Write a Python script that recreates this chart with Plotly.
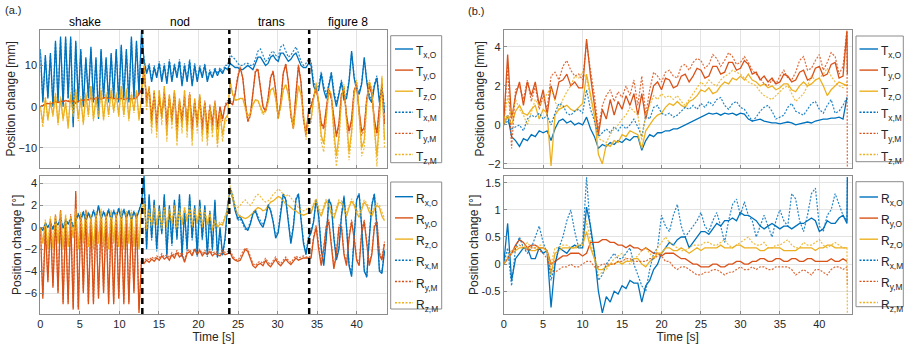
import numpy as np
import plotly.graph_objects as go

# ---------------- data: panel (a), time grid 0.32 s; segments shake | nod | trans | figure 8
ta = np.arange(137) * 0.32
segment_bounds = [12.9, 23.9, 34.0]
segment_names = ["shake", "nod", "trans", "figure 8"]
segment_label_t = [5.7, 17.7, 29.2, 38.9]

Tx_O_a = [14, 1, 12.5, 2, 13, 0, 16, 1, 17, 0, 17, 2, 17, -5, 16, 1, 14, 0, 12, 2, 14.5, 1, 12, -3, 14, 2, 12, 1, 13, 2, 14, 1, 15, 2, 14, 1, 17, 2, 16, 3, 18.5,
          11, 8, 10, 6, 9.5, 7, 10.5, 6, 10, 5.5, 11, 6, 10, 7, 11, 5, 10, 6, 11, 5, 10, 6, 9.5, 7, 10, 6, 8.5, 7, 9, 7.5, 9, 8, 9.5, 9,
          10.5, 10, 9.5, 9.5, 9, 9, 9.5, 10, 9.5, 9, 10.5, 12, 12, 11, 10, 10.5, 12, 12.5, 11.5, 11, 13, 13, 12, 11, 11.5, 12.5, 13, 11.5, 10, 9.5, 9.5, 10.5,
          10, 5, 3.5, 4, 8, 4, 2, 5, 8, 3, 0, 3, 6, 1.5, 2, 6, 13.5, 7, 4, 3, 5.5, 12, 6, 2, 1, 5, 7, 1, 4.5, -1.5]
Ty_O_a = [0, 0.3, 0.5, 0.8, 0.6, 1, 1.2, 1, 1.3, 1.2, 1.5, 1.3, 1.1, 1.4, 0.8, 1.3, 1.6, 1.5, 1.8, 1.6, 2, 1.7, 2.2, 2, 1.8, 2.1, 2.3, 2, 2.2, 1.9, 2.1, 1.8, 2, 1.7, 1.9, 2, 1.8, 2, 2.1, 3, 4,
          9, 2, 4, -3, 3, -4, 2, -2, 3, -4, 2, -3, 3, -5, 1, -3, 2, -4, 3, -5, 1, -4, 2, -5, 1, -6, 0, -4, 1, -5, 0, -3, 0, 1,
          1, 0.5, 3, 7, 9.4, 7, 1, -3.5, -2, 3, 8.5, 9, 5, 0, -1, 2, 7, 8.5, 4, -2.7, 1, 8, 10.3, 6, -2, -5, 3, 10, 6, -3, -6.4, -1,
          0, 2, 4.5, 1, -4, -5, 0, 4, 2, -3, -7, -4, 3, 4, -2, -6, -3, 4, 5, -1, -6, -5, 2, 5, 3, -3, -6.5, 0, 5, -4]
Tz_O_a = [0, -4, 2, -3, 1, -2, 3, -4, 2, -3, 1, -5, 3, -2, 4, -3, 2, -4, 3, -2, 5, -3, 2, -2, 4, -3, 3, -2, 4, -1, 3, -2, 5, -2, 4, -3, 3, -1, 4, -3, 2,
          10, 0, 5, -5, 4, -6, 4, -3, 5, -7, 3, -4, 4, -8, 2, -5, 4, -6, 3, -8, 2, -5, 3, -7, 1, -8, 0, -6, 1, -9, -1, -7, -3, -2,
          6, 3, 1.7, 1.7, 2, 2, -0.5, -2.3, -1.5, 0.5, 1.7, 1.5, 0, -1.5, -1, 1, 4, 4.5, 2, -2.3, 0, 4, 5.3, 3, -1, -5, 0, 5, 3, -2, -6.8, -3,
          -3, 2, 5.5, 1, -7, -9, -2, 4, 3, -6, -12, -7, 2, 5, -3, -11, -6, 3, 6, -1, -10, -8, 1, 6, 4, -5, -12, -3, 7, -8]
Tx_M_a = [13, 1.5, 12, 2.5, 12.5, 0.5, 15.5, 1.5, 16.5, 0.5, 16.5, 2, 16.5, -4, 15.5, 1.5, 13.5, 0.5, 11.5, 2.5, 14, 1.5, 11.5, -2, 13.5, 2.5, 11.5, 1.5, 12.5, 2.5, 13.5, 1.5, 14.5, 2.5, 13.5, 1.5, 16.5, 2.5, 15.5, 3.5, 17,
          11.5, 8.5, 10.5, 6.5, 10, 7.5, 11, 6.5, 10.5, 6, 11.5, 6.5, 10.5, 7.5, 11.5, 5.5, 10.5, 6.5, 11.5, 5.5, 10.5, 6.5, 10, 7.5, 10.5, 6.5, 9, 7.5, 9.5, 8, 9.5, 8.5, 10, 10,
          12.5, 12, 11.5, 10.5, 10, 10, 10.5, 10.5, 10, 10, 11.5, 13.5, 14, 12.5, 11, 11.5, 13, 13.5, 12.5, 12, 14.5, 15, 13.5, 12, 12.5, 13.5, 14.5, 13, 11, 10, 10.5, 11.5,
          11, 6, 4.5, 5, 8.5, 5, 3, 5.5, 8.5, 4, 1, 3.5, 6.5, 2, 3, 6.5, 13, 7.5, 4.5, 3.5, 6, 11.5, 6.5, 3, 1.5, 5.5, 7.5, 2, 4.5, 0]
Ty_M_a = [0, 0.5, 0.4, 1, 0.7, 1.1, 1.3, 0.9, 1.4, 1.3, 1.4, 1.5, 1.2, 1.5, 1, 1.4, 1.7, 1.6, 1.7, 1.8, 2.1, 1.8, 2.1, 2.2, 1.9, 2.2, 2.2, 2.1, 2.3, 2, 2, 1.9, 2.1, 1.8, 2, 2.1, 1.9, 2.1, 2.2, 3.5, 4.5,
          9.5, 1.5, 4.5, -3.5, 3.5, -4.5, 2.5, -2.5, 3.5, -4.5, 2.5, -3.5, 3.5, -5.5, 1.5, -3.5, 2.5, -4.5, 3.5, -5.5, 1.5, -4.5, 2.5, -5.5, 1.5, -6.5, 0.5, -4.5, 1.5, -5.5, 0, -3.5, 0.5, 1.5,
          1.5, 0.5, 3.5, 7.5, 9.8, 7, 1, -3.8, -2.3, 3, 8.8, 9.3, 5, 0, -1.3, 2, 7.3, 8.8, 4, -3, 1, 8.3, 10.5, 6, -2.3, -5.5, 3, 10.2, 6, -3.3, -7, -1.5,
          0.5, 2.5, 4.5, 1, -4.5, -5.5, 0, 4.5, 2, -3.5, -7.5, -4.5, 3, 4.5, -2.5, -6.5, -3.5, 4, 5.5, -1.5, -7, -5.5, 2, 5.5, 3, -3.5, -7, 0, 5.5, -4.5]
Tz_M_a = [0, -5, 2.5, -3.5, 1.5, -2.5, 3.5, -4.5, 2.5, -3.5, 1.5, -5.5, 3.5, -2.5, 4.5, -3.5, 2.5, -4.5, 3.5, -2.5, 5, -3.5, 2.5, -2.5, 4.5, -3.5, 3.5, -2.5, 4.5, -1.5, 3.5, -2.5, 5, -2.5, 4.5, -3.5, 3.5, -1.5, 4, -3.5, 2.5,
          10.5, -1, 5, -6.5, 4, -7.5, 4, -4.5, 5, -8.5, 3, -5.5, 4, -9.5, 2, -6.5, 4, -7.5, 3, -9.5, 2, -6.5, 3, -8.5, 1, -9.5, 0, -7.5, 1, -10, -1.5, -8.5, -4, -3,
          6.5, 3, 1.5, 1.5, 2, 1.8, -1, -3, -2, 0.5, 1.5, 1.3, -0.5, -2, -1.3, 1, 4.2, 4.5, 2, -3, 0, 4.2, 5.5, 3, -1.5, -5.5, 0, 5.2, 3, -2.5, -8, -4,
          -4, 2, 6, 1, -8.5, -11, -3, 4.5, 3, -7.5, -14.5, -9, 2, 5.5, -4, -13, -7, 3, 6.5, -1.5, -12, -10, 1, 6.5, 4.5, -6.5, -14.5, -4, 7.5, -10]

Rx_O_a = [0, -0.3, 0.3, 0, 0.4, -0.2, 0.5, 0.2, 0.8, -0.1, 0.6, 0.3, 0.7, 0, 0.5, 1.2, 0.6, 1.4, 0.5, 1.3, 0.7, 1.5, 0.8, 2, 0.7, 1.4, 0.8, 1.6, 0.6, 1.5, 0.9, 1.7, 0.7, 1.6, 0.8, 1.5, 0.6, 1.4, 0.8, 1.5, 2.2,
          4.7, -2, 3, -1, 2.5, -2, 2, -0.5, 3, -2.5, 2, -1.5, 2.5, -1, 3, -2.5, 1.5, -2, 3, -1, 2, -2.5, 2.5, -1, 2, -2.5, 1.5, -2, 2.5, -2.7, 0, -2.5, -1, 2,
          3.3, 2.7, 1.5, 0.8, 1.0, 0.5, 0, -0.3, 0.3, 1.2, 1.5, 0.8, 0.3, 0, 0.8, 2, 1.5, 0.5, -1, -0.5, 1.5, 3, 2.5, 0.5, -1.5, 0, 2.5, 3, 1, -1.5, -2.5, -1,
          -0.5, 0.5, 2.5, 1, -2, -3.5, -1, 2.5, 2, -1, -3, -2, 1, 2.8, 0, -3.5, -4.5, -1, 2.5, 3, 0, -4, -4.5, -1, 2, 3, 0, -4, -4.2, -2.2]
Ry_O_a = [0, -6.5, 0, -5, 0.5, -5.5, 1, -6, 1.5, -7, 0.5, -7, 1, -7.5, 3.3, -7.5, 1, -6, 1.5, -7, 0.5, -7, 1, -6.5, 0.5, -6, 1, -7, 0.5, -7, 1, -6.5, 0.5, -7, 1, -7, 0.5, -6, 1, -7.8, -3,
          -3.3, -3, -3.2, -2.9, -3.1, -2.8, -3, -2.6, -2.9, -2.7, -3, -2.5, -2.8, -2.3, -2.7, -2.5, -3.2, -2.4, -2.2, -2.6, -2, -2.5, -2.1, -2.6, -2.3, -2.5, -2.2, -2.6, -2.4, -2.5, -2.6, -2.3, -2.5, -2.4,
          -2.3, -2.8, -3, -3.1, -3, -2.5, -2, -2.2, -2.8, -3.5, -3.7, -3.4, -3.3, -3.5, -3, -3.4, -3.6, -3.2, -2.9, -3.3, -3.5, -3.2, -2.9, -3.2, -3.4, -3.1, -2.8, -3, -2.9, -2.8, -2.8, -2.8,
          -2.8, -1, 0, -2, -3.5, -2, 0, 0.5, -2, -3.8, -2.5, 0, 0, -2.5, -3.5, -1, 0.5, -1, -3, -3.5, -0.5, 0.5, -1.5, -3.5, -2.5, 0, 0.5, -2.5, -3, -1.5]
Rz_O_a = [0, -1.5, 0.5, -2, 0.8, -2, 1, -1.5, 1.3, -2, 1, -1.8, 0.8, -1, 1.5, -2, 1.2, -1.5, 1.4, -1.8, 1, -2, 1.3, -1.5, 1.5, -1.8, 1.2, -2, 1.4, -1.5, 1.2, -1.8, 1.5, -2, 1.3, -1.5, 1.4, -1.8, 1.2, -2, 1.8,
          2, -0.3, 1.5, 0, 1.8, 0.2, 1.5, -0.2, 1.7, 0, 1.5, 0.3, 1.8, -0.2, 1.6, 0.2, 1.7, 0.5, 1.8, 0, 1.5, 0.3, 1.7, 0, 1.4, 0.2, 1.2, -0.3, 0.5, 0, 0.3, 0.2, 0.8, 1.5,
          3.5, 2.5, 1.8, 1.2, 1, 0.9, 0.8, 0.9, 1.1, 1.3, 1.6, 1.8, 1.7, 1.5, 1.6, 2, 2.3, 2.4, 2.6, 2.8, 2.7, 2.4, 2.1, 2.0, 1.8, 1.6, 1.5, 1.3, 1.2, 1.1, 1.2, 1.3,
          1.3, 2, 2.4, 1.5, 1, 1.8, 2.4, 2, 1.2, 0.8, 1.6, 2.3, 2.2, 1.5, 1, 1.8, 2.4, 2, 1.3, 0.9, 1.7, 2.3, 2, 1.4, 1, 1.6, 2, 1.8, 1, 0.6]
Rx_M_a = [0, -0.2, 0.4, 0.1, 0.5, -0.1, 0.6, 0.3, 0.9, 0, 0.7, 0.4, 0.8, 0.1, 0.6, 1.3, 0.7, 1.5, 0.6, 1.4, 0.8, 1.6, 0.9, 1.9, 0.8, 1.5, 0.9, 1.7, 0.7, 1.6, 1, 1.8, 0.8, 1.7, 0.9, 1.6, 0.7, 1.5, 0.9, 1.6, 2.3,
          4.4, -1.8, 2.8, -1.2, 2.3, -2.2, 1.8, -0.7, 2.8, -2.7, 1.8, -1.7, 2.3, -1.2, 2.8, -2.7, 1.3, -2.2, 2.8, -1.2, 1.8, -2.7, 2.3, -1.2, 1.8, -2.7, 1.3, -2.2, 2.3, -2.8, -0.2, -2.6, -1.2, 1.8,
          3.6, 3, 1.8, 0.6, 0.8, 0.3, -0.2, -0.1, 0.5, 1.3, 1.6, 1, 0.6, 0.2, 0.9, 2.1, 1.6, 0.6, -0.8, -0.3, 1.6, 3.1, 2.6, 0.6, -1.3, 0.2, 2.6, 3.1, 1.1, -1.3, -2.3, -0.8,
          -0.3, 0.6, 2.6, 1.1, -1.8, -3.3, -0.8, 2.6, 2.1, -0.8, -2.8, -1.8, 1.1, 2.9, 0.1, -3.3, -4.3, -0.8, 2.6, 3.1, 0.1, -3.8, -4.6, -0.8, 2.1, 3.1, 0.1, -3.8, -4, -2]
Ry_M_a = [0, -6.2, 0.2, -4.8, 0.7, -5.3, 1.2, -5.8, 1.6, -6.8, 0.7, -6.8, 1.2, -7.3, 3, -7.3, 1.2, -5.8, 1.6, -6.8, 0.7, -6.8, 1.2, -6.3, 0.7, -5.8, 1.2, -6.8, 0.7, -6.8, 1.2, -6.3, 0.7, -6.8, 1.2, -6.8, 0.7, -5.8, 1.2, -7.5, -2.8,
          -3.1, -2.8, -3, -2.7, -2.9, -2.6, -2.8, -2.4, -2.7, -2.5, -2.8, -2.3, -2.6, -2.1, -2.5, -2.3, -3, -2.2, -2, -2.4, -1.9, -2.3, -2, -2.4, -2.1, -2.3, -2, -2.4, -2.2, -2.3, -2.4, -2.1, -2.3, -2.2,
          -2.1, -2.6, -2.9, -3, -2.7, -2.2, -1.9, -2, -2.6, -3.3, -3.5, -3.2, -3.1, -3.3, -2.8, -3.2, -3.4, -3, -2.7, -3.1, -3.3, -3, -2.7, -3, -3.2, -2.9, -2.6, -2.8, -2.7, -2.6, -2.7, -2.7,
          -2.6, -0.8, 0.2, -1.8, -3.3, -1.8, 0.2, 0.7, -1.8, -3.6, -2.3, 0.2, 0.2, -2.3, -3.3, -0.8, 0.7, -0.8, -2.8, -3.3, -0.3, 0.7, -1.3, -3.3, -2.3, 0.2, 0.7, -2.3, -2.8, -1.3]
Rz_M_a = [0, -1.3, 0.7, -1.8, 1, -1.8, 1.2, -1.3, 1.5, -1.8, 1.2, -1.6, 1, -0.8, 1.7, -1.8, 1.4, -1.3, 1.6, -1.6, 1.2, -1.8, 1.5, -1.3, 1.7, -1.6, 1.4, -1.8, 1.6, -1.3, 1.4, -1.6, 1.7, -1.8, 1.5, -1.3, 1.6, -1.6, 1.4, -1.8, 2,
          2.2, -0.1, 1.7, 0.2, 2, 0.4, 1.7, 0, 1.9, 0.2, 1.7, 0.5, 2, 0, 1.8, 0.4, 1.9, 0.7, 2, 0.2, 1.7, 0.5, 1.9, 0.2, 1.6, 0.4, 1.4, -0.1, 0.7, 0.2, 0.5, 0.4, 1, 1.7,
          3.8, 2.8, 2, 1.8, 2, 2.3, 2.5, 2.2, 2, 2.3, 2.8, 3, 2.8, 2.5, 2.3, 2.4, 2.6, 3, 3.2, 3.5, 3.3, 3, 2.8, 3, 2.7, 2.3, 2, 1.8, 1.6, 1.5, 1.6, 1.8,
          1.5, 2.2, 2.6, 1.8, 1.3, 2, 2.6, 2.2, 1.5, 1.1, 1.8, 2.5, 2.4, 1.7, 1.3, 2, 2.6, 2.2, 1.6, 1.2, 1.9, 2.5, 2.2, 1.7, 1.3, 1.8, 2.2, 2, 1.3, 0.8]

# ---------------- data: panel (b), time grid 0.5 s (+ final sample)
tb = np.r_[np.arange(88) * 0.5, 43.55]

Tx_O_b = [0, 0.5, -0.6, -0.8, -1.1, -0.7, -0.8, -0.5, -0.6, -0.3, -0.4, -0.3, -0.8, -0.2, 0.2, 0.3, 0.1, 0.2, 0.0, 0.1,
          0.0, 0.4, -0.2, -0.6, -1.2, -1.0, -1.1, -0.9, -1.0, -0.8, -0.9, -0.7, -0.8, -0.6, -0.6, -1.3, -0.8, -0.5, -0.6, -0.4,
          -0.4, -0.3, -0.3, -0.2, -0.2, -0.1, 0.0, 0.1, 0.2, 0.3, 0.4, 0.5, 0.6, 0.55, 0.6, 0.5, 0.6, 0.55, 0.6, 0.5,
          0.6, 0.55, 0.3, 0.2, 0.25, 0.3, 0.2, 0.15, 0.1, 0.1, 0.05, 0.1, 0.15, 0.1, 0.0, 0.05, 0.1, 0.15, 0.1, 0.2,
          0.25, 0.3, 0.3, 0.35, 0.35, 0.4, 0.3, 1.4]
Ty_O_b = [0, 3.6, 0.3, 1.5, 2.2, 1.0, 2.2, 1.5, 2.2, 1.0, 1.8, 0.5, 2.0, 1.3, 2.2, 2.3, 2.6, 2.0, 2.2, 1.9,
          1.9, 4.4, 2.5, 1.0, -0.5, 0.8, 0.3, 1.3, 0.5, 1.2, 0.8, 1.5, 1.0, 1.6, 0.5, 1.6, 0.3, 1.2, 2.0, 2.2,
          1.8, 2.4, 2.3, 1.9, 2.0, 2.5, 2.6, 2.2, 2.5, 2.9, 2.8, 2.4, 2.5, 3.0, 3.0, 2.6, 2.7, 3.2, 3.2, 2.8,
          2.9, 3.3, 3.1, 2.6, 2.7, 2.3, 2.5, 2.2, 2.4, 2.1, 2.2, 2.6, 2.5, 2.2, 2.3, 2.7, 2.8, 2.3, 2.4, 2.9,
          3.0, 2.5, 2.6, 3.1, 3.2, 2.4, 2.5, 4.8, 2.6]
Tz_O_b = [0, 0.5, 0.0, 0.7, 1.0, 0.6, 0.5, 0.8, 1.0, 0.3, 0.8, 0.6, -2.1, 0.5, 0.8, 0.9, 1.0, 0.8, 0.7, 0.9,
          1.1, 2.6, 1.5, 0.5, -1.5, -2.0, -1.0, -1.1, -0.8, -0.9, -0.5, -0.6, -0.3, -0.4, -0.5, -1.2, -0.3, 0.0, 0.3, 0.5,
          0.6, 0.9, 1.1, 1.0, 1.2, 1.0, 0.9, 1.2, 1.3, 1.5, 1.8, 1.7, 1.9, 1.6, 1.7, 2.0, 2.2, 2.1, 2.4, 2.3,
          2.5, 2.3, 2.6, 2.3, 2.2, 2.0, 2.1, 1.9, 2.0, 1.8, 1.9, 2.1, 2.1, 1.8, 1.7, 2.0, 2.2, 2.0, 2.1, 2.3,
          2.4, 2.0, 1.5, 1.8, 2.0, 2.2, 2.1, 2.0]
Tx_M_b = [0, 0.2, -0.2, -0.1, 0.0, -0.3, 0.3, 0.5, 0.4, 0.6, 0.3, 0.5, 0.0, 0.6, 1.1, 1.0, 0.6, 0.5, 0.7, 0.8,
          0.6, 1.8, 0.8, 0.2, -0.6, -0.4, -0.2, -0.4, -0.1, -0.3, 0.0, -0.2, 0.0, 0.3, -0.1, -0.6, 0.5, 0.3, 0.9, 1.0,
          0.6, 0.5, 0.6, 0.4, 0.5, 0.7, 0.9, 0.8, 1.0, 0.8, 1.1, 0.9, 1.2, 1.0, 1.3, 1.4, 1.0, 0.8, 1.1, 1.2,
          0.9, 0.8, 0.5, 0.2, 0.4, 0.7, 0.9, 1.0, 0.7, 0.3, 0.4, 0.5, 0.9, 1.1, 0.7, 0.6, 0.5, 0.8, 1.1, 1.2,
          0.8, 0.6, 1.0, 1.3, 0.6, 0.7, 1.0, 1.4]
Ty_M_b = [0, 3.0, -1.2, 1.8, 2.0, 1.3, 2.3, 1.2, 2.0, 0.8, 1.5, 0.8, 2.5, 2.7, 2.3, 3.0, 3.3, 2.8, 2.5, 2.6,
          2.3, 4.2, 2.8, 1.5, -0.2, 1.0, 1.5, 1.8, 1.2, 1.7, 1.4, 2.0, 1.5, 2.3, 1.0, 2.5, 0.5, 1.8, 2.7, 2.5,
          2.2, 2.7, 2.8, 2.5, 2.4, 3.0, 3.1, 2.8, 3.2, 3.4, 3.3, 2.9, 3.1, 3.6, 3.4, 3.0, 3.3, 3.7, 3.5, 3.1,
          3.2, 3.5, 3.2, 2.8, 2.6, 2.4, 2.1, 2.0, 2.3, 2.1, 2.5, 2.8, 2.4, 2.3, 2.7, 3.3, 3.5, 2.8, 2.9, 3.3,
          3.6, 2.8, 3.2, 3.7, 3.5, 2.6, 3.0, 4.9, -2.5]
Tz_M_b = [0, 1.5, 0.3, 1.3, 0.8, 0.5, 0.0, 0.7, 1.3, 1.0, 1.2, 1.6, 1.9, 1.2, 0.8, 1.3, 1.7, 2.0, 2.5, 2.4,
          2.7, 2.4, 1.3, 0.2, -0.7, -0.8, -0.9, -0.5, -0.2, 0.0, 0.3, 0.5, 0.9, 0.7, 0.5, -0.8, 0.5, 1.0, 1.5, 1.3,
          1.6, 1.4, 1.5, 1.3, 1.5, 1.2, 1.0, 1.3, 1.6, 1.9, 2.2, 2.0, 2.3, 2.1, 2.0, 2.3, 2.5, 2.6, 2.8, 2.7,
          2.6, 2.4, 2.2, 2.1, 2.0, 1.7, 1.5, 1.4, 1.3, 1.5, 1.7, 1.9, 2.0, 1.6, 1.2, 1.4, 1.6, 2.0, 2.5, 2.3,
          2.4, 2.6, 2.9, 2.5, 2.2, 2.0, 1.9, 2.2]

Rx_O_b = [0, 0.75, -0.3, 0.1, 0.2, 0.3, 0.3, 0.1, 0.1, 0.3, 0.2, 0.25, -0.8, 0.0, 0.3, 0.25, 0.2, 0.3, 0.35, 0.3,
          0.3, 1.05, 0.7, 0.2, -0.5, -0.9, -0.6, -0.7, -0.5, -0.55, -0.4, -0.45, -0.3, -0.35, -0.35, -0.7, -0.4, -0.3, -0.1, 0.0,
          0.2, 0.3, 0.4, 0.35, 0.45, 0.5, 0.5, 0.3, 0.4, 0.5, 0.6, 0.6, 0.55, 0.65, 0.75, 0.7, 0.8, 0.8, 0.85, 0.8,
          0.95, 0.9, 0.9, 0.85, 0.8, 0.7, 0.65, 0.7, 0.75, 0.7, 0.65, 0.7, 0.7, 0.65, 0.7, 0.75, 0.75, 0.8, 0.85, 0.8,
          0.6, 0.65, 0.8, 0.75, 0.75, 0.85, 0.9, 0.75, 1.6]
Ry_O_b = [0, 0.1, 0.2, 0.35, 0.45, 0.4, 0.3, 0.35, 0.35, 0.3, 0.3, 0.25, 0.0, 0.05, 0.1, 0.15, 0.15, 0.2, 0.2, 0.2,
          0.15, 0.2, 0.4, 0.4, 0.4, 0.45, 0.45, 0.4, 0.4, 0.35, 0.35, 0.3, 0.35, 0.3, 0.3, 0.25, 0.3, 0.25, 0.2, 0.2,
          0.15, 0.2, 0.2, 0.2, 0.15, 0.1, 0.1, 0.05, 0.0, 0.0, -0.05, -0.05, -0.05, 0.0, 0.0, -0.05, -0.05, 0.0, 0.0, 0.05,
          0.05, 0.0, 0.0, 0.05, 0.05, 0.1, 0.1, 0.05, 0.05, 0.1, 0.1, 0.05, 0.05, 0.1, 0.1, 0.05, 0.05, 0.1, 0.1, 0.05,
          0.05, 0.05, 0.05, 0.1, 0.05, 0.05, 0.1, 0.05]
Rz_O_b = [0, 0.1, 0.2, 0.25, 0.3, 0.3, 0.3, 0.25, 0.25, 0.3, 0.3, 0.25, -0.2, 0.2, 0.25, 0.3, 0.3, 0.3, 0.3, 0.35,
          0.35, 0.6, 0.3, 0.1, -0.1, -0.1, -0.05, 0.0, 0.0, 0.05, 0.0, 0.05, 0.05, 0.1, 0.1, 0.0, -0.05, 0.05, 0.1, 0.2,
          0.2, 0.3, 0.3, 0.25, 0.25, 0.3, 0.25, 0.2, 0.25, 0.3, 0.25, 0.3, 0.3, 0.3, 0.3, 0.35, 0.3, 0.3, 0.3, 0.35,
          0.35, 0.3, 0.3, 0.3, 0.3, 0.25, 0.25, 0.3, 0.3, 0.3, 0.3, 0.25, 0.25, 0.25, 0.25, 0.3, 0.3, 0.3, 0.3, 0.25,
          0.3, 0.3, 0.35, 0.35, 0.3, 0.3, 0.3, 0.3]
Rx_M_b = [0, 0.3, -0.4, 0.3, 0.5, 0.3, 0.2, 0.3, 0.5, 0.7, 0.4, 0.2, -0.3, 0.0, 0.3, 0.5, 0.8, 1.0, 0.6, 0.3,
          0.4, 1.6, 0.6, 0.2, -0.3, -0.2, 0.0, 0.1, 0.2, 0.1, 0.1, 0.2, 0.3, 0.0, -0.2, -0.4, -0.5, -0.1, 0.2, 0.3,
          0.9, 0.7, 0.6, 0.9, 1.1, 0.7, 0.5, 0.6, 0.7, 0.8, 0.95, 0.7, 0.6, 0.8, 0.95, 0.7, 0.4, 0.8, 1.1, 1.2,
          0.9, 1.15, 0.9, 0.8, 0.5, 0.7, 0.9, 0.7, 0.5, 0.8, 1.0, 0.8, 0.7, 1.3, 1.2, 0.8, 0.6, 0.9, 1.3, 1.4,
          0.7, 0.6, 0.9, 1.0, 1.3, 1.1, 0.9, 0.8, 1.6]
Ry_M_b = [0, 0.1, 0.2, 0.3, 0.35, 0.3, 0.25, 0.3, 0.3, 0.25, 0.2, 0.1, -0.1, -0.15, -0.1, -0.05, -0.05, 0.0, -0.05, -0.05,
          0.0, 0.05, 0.05, -0.05, -0.05, 0.0, 0.0, 0.0, 0.0, 0.05, 0.05, 0.1, 0.1, 0.05, 0.05, 0.05, 0.05, 0.1, 0.1, 0.15,
          0.15, 0.05, 0.05, -0.05, -0.1, -0.05, -0.05, -0.1, -0.15, -0.2, -0.2, -0.15, -0.15, -0.1, -0.1, -0.15, -0.2, -0.15, -0.15, -0.1,
          -0.05, -0.1, -0.1, -0.05, -0.1, -0.05, -0.05, -0.1, -0.1, -0.05, -0.05, -0.05, -0.05, -0.1, -0.2, -0.15, -0.1, -0.15, -0.2, -0.1,
          -0.1, -0.15, -0.2, -0.1, -0.05, -0.05, -0.1, -0.05, -0.4]
Rz_M_b = [0, 0.15, 0.25, 0.3, 0.35, 0.3, 0.4, 0.3, 0.3, 0.35, 0.35, 0.2, 0.0, 0.3, 0.3, 0.35, 0.35, 0.3, 0.3, 0.3,
          0.35, 0.8, 0.4, 0.1, -0.2, -0.15, -0.1, 0.0, 0.1, 0.15, 0.2, 0.1, 0.0, 0.1, 0.15, 0.25, 0.3, 0.2, 0.1, 0.3,
          0.4, 0.5, 0.4, 0.35, 0.3, 0.25, 0.25, 0.3, 0.35, 0.35, 0.35, 0.4, 0.4, 0.35, 0.35, 0.4, 0.45, 0.35, 0.3, 0.35,
          0.4, 0.45, 0.5, 0.4, 0.35, 0.35, 0.4, 0.3, 0.3, 0.35, 0.35, 0.4, 0.45, 0.35, 0.3, 0.3, 0.4, 0.35, 0.35, 0.4,
          0.45, 0.35, 0.3, 0.35, 0.4, 0.35, 0.3, 0.3, -0.9]

# ---------------- figure
W, H = 911, 351
COL = {"x": "#0072BD", "y": "#D95319", "z": "#EDB120"}
FONT = "Liberation Sans, Arial, sans-serif"
TXT = "#262626"
FRAME = "#8c8c8c"
DOT = "2px,1.5px"

fig = go.Figure()


def line_style(comp, src):
    solid = src == "O"
    return dict(color=COL[comp], width=1.3 if solid else 1.2, dash="solid" if solid else DOT)


def add(t, v, q, comp, src, xa, ya):
    n = min(len(t), len(v))
    fig.add_trace(go.Scatter(
        x=list(t[:n]), y=list(v[:n]), mode="lines",
        name=f"{q}<sub>{comp},{src}</sub>",
        line=line_style(comp, src), opacity=1.0 if src == "O" else 0.85,
        xaxis=xa, yaxis=ya, showlegend=False, hoverinfo="skip"))


panels = [
    (ta, "T", {"x": (Tx_O_a, Tx_M_a), "y": (Ty_O_a, Ty_M_a), "z": (Tz_O_a, Tz_M_a)}, "x", "y"),
    (ta, "R", {"x": (Rx_O_a, Rx_M_a), "y": (Ry_O_a, Ry_M_a), "z": (Rz_O_a, Rz_M_a)}, "x2", "y2"),
    (tb, "T", {"x": (Tx_O_b, Tx_M_b), "y": (Ty_O_b, Ty_M_b), "z": (Tz_O_b, Tz_M_b)}, "x3", "y3"),
    (tb, "R", {"x": (Rx_O_b, Rx_M_b), "y": (Ry_O_b, Ry_M_b), "z": (Rz_O_b, Rz_M_b)}, "x4", "y4"),
]
for t, q, d, xa, ya in panels:
    for src_i, src in enumerate(["O", "M"]):
        for comp in ["x", "y", "z"]:
            add(t, d[comp][src_i], q, comp, src, xa, ya)


def px(x):
    return x / W


def py(y):
    return 1 - y / H


dom_xa = [px(40.3), px(386.7)]
dom_xb = [px(503.7), px(851.7)]
dom_top = [py(167.7), py(30)]
dom_bot = [py(314), py(175.7)]

common_x = dict(range=[0, 43.8], tickvals=list(range(0, 45, 5)), showgrid=True, gridcolor="#e3e3e3",
                showline=True, mirror=True, linecolor=FRAME, linewidth=1, ticks="inside", ticklen=3,
                tickcolor=FRAME, zeroline=False, tickfont=dict(size=11, color=TXT, family=FONT))
common_y = dict(showgrid=True, gridcolor="#e3e3e3", showline=True, mirror=True, linecolor=FRAME,
                linewidth=1, ticks="inside", ticklen=3, tickcolor=FRAME, zeroline=False,
                tickfont=dict(size=11, color=TXT, family=FONT), title_font=dict(size=12, color=TXT, family=FONT),
                title_standoff=0)

fig.update_layout(
    width=W, height=H, margin=dict(l=0, r=0, t=0, b=0, autoexpand=False),
    paper_bgcolor="white", plot_bgcolor="white",
    font=dict(family=FONT, color=TXT), showlegend=False,
    xaxis=dict(common_x, domain=dom_xa, anchor="y", showticklabels=False),
    yaxis=dict(common_y, domain=dom_top, anchor="x", range=[-14.8, 18.6], tickvals=[-10, 0, 10],
               title_text="Position change [mm]"),
    xaxis2=dict(common_x, domain=dom_xa, anchor="y2", title_text="Time [s]",
                title_font=dict(size=12, color=TXT, family=FONT), title_standoff=3),
    yaxis2=dict(common_y, domain=dom_bot, anchor="x2", range=[-7.9, 4.7], tickvals=[-6, -4, -2, 0, 2, 4],
                title_text="Position change [°]"),
    xaxis3=dict(common_x, domain=dom_xb, anchor="y3", showticklabels=False, range=[0, 44.1]),
    yaxis3=dict(common_y, domain=dom_top, anchor="x3", range=[-2.19, 4.86], tickvals=[-2, 0, 2, 4],
                title_text="Position change [mm]"),
    xaxis4=dict(common_x, domain=dom_xb, anchor="y4", range=[0, 44.1], title_text="Time [s]",
                title_font=dict(size=12, color=TXT, family=FONT), title_standoff=3),
    yaxis4=dict(common_y, domain=dom_bot, anchor="x4", range=[-0.92, 1.63], tickvals=[-0.5, 0, 0.5, 1, 1.5],
                ticktext=["-0.5", "0", "0.5", "1", "1.5"], title_text="Position change [°]"),
)

# ---------------- legend boxes (drawn as shapes + text, MATLAB-style compact legends)
legend_boxes = [  # (quantity, box x0, x1, y0, y1, first entry y, step, sample x0, x1)
    ("T", 390.7, 441.7, 35.7, 162.7, 49.0, 21.1, 395.0, 413.0),
    ("R", 390.7, 441.7, 182.0, 309.0, 196.7, 21.2, 395.0, 413.0),
    ("T", 856.0, 903.3, 36.0, 161.7, 49.0, 21.1, 859.5, 878.0),
    ("R", 856.0, 903.3, 181.7, 306.7, 197.0, 21.1, 859.5, 878.0),
]
entries = [(c, s) for s in ["O", "M"] for c in ["x", "y", "z"]]
for q, bx0, bx1, by0, by1, ey0, est, lx0, lx1 in legend_boxes:
    fig.add_shape(type="rect", xref="paper", yref="paper", x0=px(bx0), x1=px(bx1), y0=py(by1), y1=py(by0),
                  line=dict(color=FRAME, width=1), fillcolor="white", layer="above")
    for k, (comp, src) in enumerate(entries):
        ey = ey0 + k * est
        st = line_style(comp, src)
        fig.add_shape(type="line", xref="paper", yref="paper", x0=px(lx0), x1=px(lx1), y0=py(ey), y1=py(ey),
                      line=dict(color=st["color"], width=1.4, dash=st["dash"]), layer="above")
        fig.add_annotation(x=px(lx1 + 1), y=py(ey + 3), xref="paper", yref="paper",
                           text=f"{q}<sub>{comp},{src}</sub>", showarrow=False, xanchor="left",
                           yanchor="middle", font=dict(size=12, color=TXT, family=FONT))

# segment boundaries spanning both panel-(a) plots
for b in segment_bounds:
    fig.add_shape(type="line", xref="x", yref="paper", x0=b, x1=b, y0=dom_bot[0], y1=dom_top[1],
                  line=dict(color="black", width=2.5, dash="6px,4px"), layer="above")
for name, tx in zip(segment_names, segment_label_t):
    fig.add_annotation(x=tx, xref="x", y=py(21.5), yref="paper", text=name, showarrow=False,
                       font=dict(size=12, color="black", family=FONT), xanchor="center", yanchor="middle")

fig.add_annotation(x=px(3), y=py(10), xref="paper", yref="paper", text="(a.)", showarrow=False,
                   xanchor="left", yanchor="middle", font=dict(size=11, color=TXT, family=FONT))
fig.add_annotation(x=px(466), y=py(11), xref="paper", yref="paper", text="(b.)", showarrow=False,
                   xanchor="left", yanchor="middle", font=dict(size=11, color=TXT, family=FONT))

fig.write_html("out.html", config={"displayModeBar": False},
               post_script="document.body.style.margin='0px';")
